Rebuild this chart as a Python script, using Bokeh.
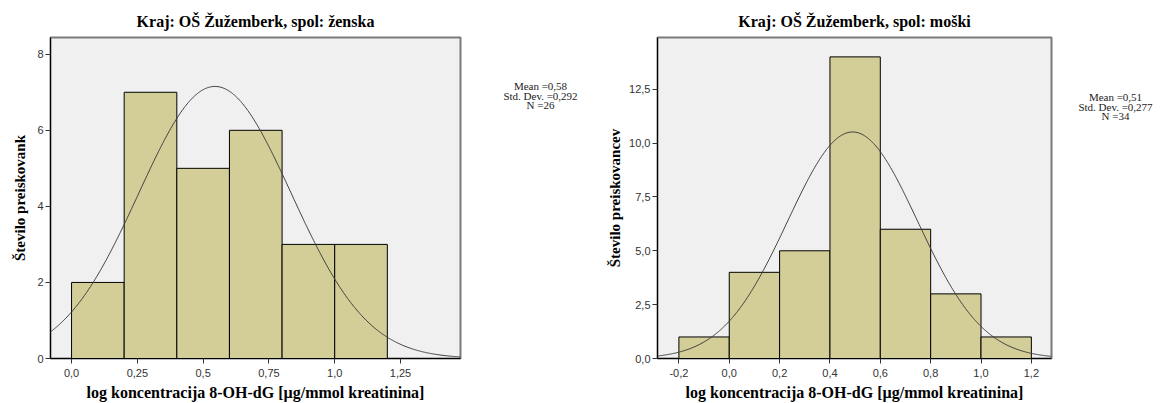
import numpy as np
from bokeh.plotting import figure
from bokeh.layouts import row
from bokeh.models import Range1d, FixedTicker
from bokeh.core.properties import value
from bokeh.embed import file_html
from bokeh.resources import INLINE

# ---- data ----
left_title = "Kraj: OŠ Žužemberk, spol: ženska"
left_ylabel = "Število preiskovank"
left_edges = [0.0, 0.2, 0.4, 0.6, 0.8, 1.0, 1.2]
left_counts = [2, 7, 5, 6, 3, 3]
left_stats = ["Mean =0,58", "Std. Dev. =0,292", "N =26"]
left_n = 26
left_curve_mean, left_curve_sd = 0.545, 0.29   # normal curve as drawn in the picture
left_xticks = [0.0, 0.25, 0.5, 0.75, 1.0, 1.25]
left_xlabels = ["0,0", "0,25", "0,5", "0,75", "1,0", "1,25"]
left_yticks = [0, 2, 4, 6, 8]
left_ylabels = ["0", "2", "4", "6", "8"]

right_title = "Kraj: OŠ Žužemberk, spol: moški"
right_ylabel = "Število preiskovancev"
right_edges = [-0.2, 0.0, 0.2, 0.4, 0.6, 0.8, 1.0, 1.2]
right_counts = [1, 4, 5, 14, 6, 3, 1]
right_stats = ["Mean =0,51", "Std. Dev. =0,277", "N =34"]
right_n = 34
right_curve_mean, right_curve_sd = 0.49, 0.258
right_xticks = [-0.2, 0.0, 0.2, 0.4, 0.6, 0.8, 1.0, 1.2]
right_xlabels = ["-0,2", "0,0", "0,2", "0,4", "0,6", "0,8", "1,0", "1,2"]
right_yticks = [0, 2.5, 5, 7.5, 10, 12.5]
right_ylabels = ["0,0", "2,5", "5,0", "7,5", "10,0", "12,5"]

x_label = "log koncentracija 8-OH-dG [µg/mmol kreatinina]"

SERIF = "Liberation Serif"
SANS = "Liberation Sans"
BAR = "#D3CE98"


def make(title, ylabel, edges, counts, n, cmean, csd, xr, yr, xt, xl, yt, yl,
         bl, frame_w, ylab_standoff):
    p = figure(width=bl + frame_w + 2, height=403, output_backend="svg", toolbar_location=None,
               x_range=Range1d(*xr), y_range=Range1d(*yr),
               min_border_left=bl, min_border_right=2,
               min_border_top=37, min_border_bottom=41)
    p.title.text = title
    p.title.align = "center"
    p.title.text_font = SERIF
    p.title.text_font_size = "16px"
    p.title.text_font_style = "bold"
    p.title.text_color = "#000000"
    p.title.standoff = 15
    p.background_fill_color = "#F0F0F0"
    p.border_fill_color = "white"
    p.outline_line_color = "#7A7A7A"
    p.outline_line_width = 2
    p.xgrid.visible = False
    p.ygrid.visible = False

    p.quad(left=edges[:-1], right=edges[1:], bottom=0, top=counts, fill_color=BAR,
           line_color="black", line_width=1)

    bw = edges[1] - edges[0]
    xs = np.linspace(xr[0], xr[1], 400)
    ys = n * bw / (csd * np.sqrt(2 * np.pi)) * np.exp(-0.5 * ((xs - cmean) / csd) ** 2)
    p.line(xs, ys, line_color="#404040", line_width=1)

    for ax in (p.xaxis[0], p.yaxis[0]):
        ax.axis_line_color = "black"
        ax.axis_line_width = 1
        ax.major_tick_out = 5
        ax.major_tick_in = 0
        ax.minor_tick_line_color = None
        ax.major_tick_line_color = "#333333"
        ax.major_label_text_font = SANS
        ax.major_label_text_font_size = "11px"
        ax.major_label_text_color = "#333333"
        ax.axis_label_text_font = SERIF
        ax.axis_label_text_font_style = "bold"
        ax.axis_label_text_color = "#000000"
    p.xaxis.axis_label_text_font_size = "16px"
    p.yaxis.axis_label_text_font_size = "15px"
    p.xaxis.ticker = FixedTicker(ticks=xt)
    p.xaxis.major_label_overrides = {t: l for t, l in zip(xt, xl)}
    p.yaxis.ticker = FixedTicker(ticks=yt)
    p.yaxis.major_label_overrides = {t: l for t, l in zip(yt, yl)}
    p.xaxis.axis_label = x_label
    p.xaxis.axis_label_standoff = 4
    p.yaxis.axis_label = ylabel
    p.yaxis.axis_label_standoff = ylab_standoff
    p.yaxis.major_label_standoff = 2
    return p


def stats(width, cx, y0, lines):
    s = figure(width=width, height=403, output_backend="svg", toolbar_location=None,
               x_range=Range1d(0, width), y_range=Range1d(403, 0),
               min_border=0, x_axis_location=None, y_axis_location=None)
    s.outline_line_color = None
    s.xgrid.visible = False
    s.ygrid.visible = False
    s.text(x=[cx] * len(lines), y=[y0 + 12 * i for i in range(len(lines))], text=lines,
           text_font=value(SERIF), text_font_size="11px", text_align="center",
           text_baseline="middle", text_color="#222222")
    return s


p1 = make(left_title, left_ylabel, left_edges, left_counts, left_n,
          left_curve_mean, left_curve_sd,
          (-0.08, 1.478), (0, 8.44), left_xticks, left_xlabels, left_yticks, left_ylabels,
          50, 410, 6)
s1 = stats(580 - 462, 540 - 462, 61, left_stats)
p2 = make(right_title, right_ylabel, right_edges, right_counts, right_n,
          right_curve_mean, right_curve_sd,
          (-0.285, 1.28), (0, 14.9), right_xticks, right_xlabels, right_yticks, right_ylabels,
          77, 394, 3)
s2 = stats(1160 - 1053, 1115 - 1053, 75, right_stats)

layout = row(p1, s1, p2, s2)
open("out.html", "w").write(file_html(layout, INLINE))
